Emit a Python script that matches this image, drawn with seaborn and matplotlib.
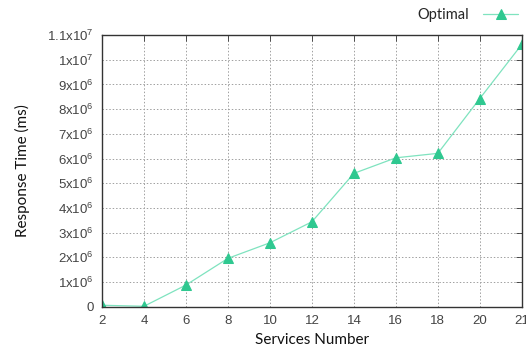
import matplotlib
matplotlib.use("Agg")
import matplotlib.pyplot as plt
import seaborn as sns
import pandas as pd
from matplotlib.ticker import FixedLocator, FuncFormatter

services = ["2", "4", "6", "8", "10", "12", "14", "16", "18", "20", "21"]
optimal = [60000, 20000, 880000, 1960000, 2590000, 3440000, 5400000,
           6030000, 6210000, 8430000, 10620000]
y_ticks = [0, 1e6, 2e6, 3e6, 4e6, 5e6, 6e6, 7e6, 8e6, 9e6, 1e7, 1.1e7]

sns.set_style("white")
plt.rcParams["font.family"] = ["Lato", "DejaVu Sans"]
plt.rcParams["mathtext.fontset"] = "custom"
plt.rcParams["mathtext.rm"] = "Liberation Sans"
plt.rcParams["mathtext.it"] = "Liberation Sans"

df = pd.DataFrame({"pos": list(range(len(services))), "val": optimal, "s": "Optimal"})

fig = plt.figure(figsize=(5.26, 3.47), dpi=100)
ax = fig.add_axes([0.194, 0.116, 0.798, 0.783])

color_line = "#7fe3bf"
color_mark = "#2fc890"
sns.lineplot(data=df, x="pos", y="val", ax=ax, color=color_line, linewidth=0.9,
             marker="^", markersize=7.5, markerfacecolor=color_mark,
             markeredgecolor=color_mark, label="Optimal")

ax.set_xlim(0, len(services) - 1)
ax.set_ylim(0, 1.1e7)
ax.xaxis.set_major_locator(FixedLocator(list(range(len(services)))))
ax.set_xticklabels(services)


def fmt(v, p):
    if v == 0:
        return "0"
    e = 6 if v < 9.5e6 else 7
    m = v / 10 ** e
    ms = ("%g" % round(m, 2))
    return r"$\mathrm{%sx10}^{%d}$" % (ms, e)


ax.yaxis.set_major_locator(FixedLocator(y_ticks))
ax.yaxis.set_major_formatter(FuncFormatter(fmt))

ax.grid(True, linestyle=(0, (1.5, 2)), color="#a0a0a0", linewidth=0.7)
for sp in ax.spines.values():
    sp.set_color("#333333")
    sp.set_linewidth(1.0)
ax.tick_params(direction="in", length=4, width=0.6, top=True, right=True,
               labelsize=9.5, labelcolor="#444444", color="#333333", pad=6)
for lab in ax.get_xticklabels() + ax.get_yticklabels():
    lab.set_fontfamily("Liberation Sans")

ax.set_xlabel("Services Number", fontsize=11, color="#111111", labelpad=4)
ax.set_ylabel("Response Time (ms)", fontsize=11, color="#111111", labelpad=12)

ax.legend(loc="center right", bbox_to_anchor=(0.985, 0.957),
          bbox_transform=fig.transFigure, frameon=False, markerfirst=False,
          fontsize=10.5, handlelength=2.4, handletextpad=1.0, borderpad=0,
          borderaxespad=0)

fig.savefig("out.png", dpi=100)
